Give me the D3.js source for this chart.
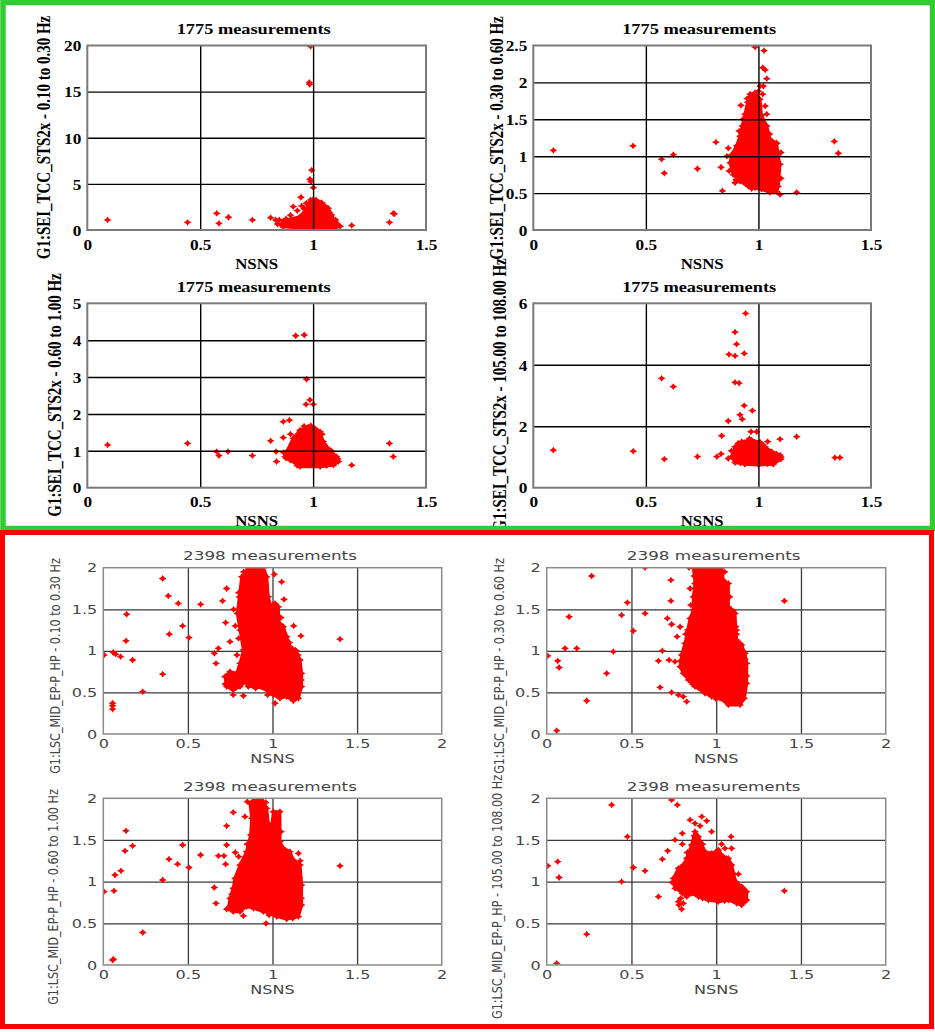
<!DOCTYPE html>
<html><head><meta charset="utf-8">
<script src="https://cdn.jsdelivr.net/npm/d3@7"></script>
<style>body{margin:0;background:#fff}svg{display:block}</style>
</head><body>
<svg id="chart" width="935" height="1032"></svg>
<script>
// ---------- DATA ----------
const topTitle = "1775 measurements";
const bottomTitle = "2398 measurements";
const xLabel = "NSNS";
const topXTicks = [0, 0.5, 1, 1.5];
const bottomXTicks = [0, 0.5, 1, 1.5, 2];
const p1YTicks = [0, 5, 10, 15, 20];
const p2YTicks = [0, 0.5, 1, 1.5, 2, 2.5];
const p3YTicks = [0, 1, 2, 3, 4, 5];
const p4YTicks = [0, 2, 4, 6];
const bottomYTicks = [0, 0.5, 1, 1.5, 2];
const yLabels = [
  "G1:SEI_TCC_STS2x - 0.10 to 0.30 Hz",
  "G1:SEI_TCC_STS2x - 0.30 to 0.60 Hz",
  "G1:SEI_TCC_STS2x - 0.60 to 1.00 Hz",
  "G1:SEI_TCC_STS2x - 105.00 to 108.00 Hz",
  "G1:LSC_MID_EP-P_HP - 0.10 to 0.30 Hz",
  "G1:LSC_MID_EP-P_HP - 0.30 to 0.60 Hz",
  "G1:LSC_MID_EP-P_HP - 0.60 to 1.00 Hz",
  "G1:LSC_MID_EP-P_HP - 105.00 to 108.00 Hz"
];

// individually visible measurements per panel [NSNS, value]
const p1Points = [[0.09,1.09],[0.444,0.83],[0.573,1.8],[0.583,0.72],[0.625,1.38],[0.731,1.09],[0.812,1.34],[0.834,1.09],[0.842,0.65],[0.912,2.54],[0.946,3.55],[0.989,19.9],[0.983,16.0],[0.985,15.8],[0.994,6.5],[0.986,5.5],[0.99,5.25],[1.001,4.6],[1.171,0.5],[1.338,0.83],[1.355,1.8],[1.36,1.75],[0.96,2.3],[0.97,2.9],[1.02,3.0],[1.04,2.8],[1.06,2.2],[1.09,0.6],[1.1,0.75],[0.87,1.0],[0.85,1.1],[0.88,1.2],[0.9,1.6],[0.93,2.1],[0.95,2.6],[1.05,2.6],[1.07,1.9],[1.1,1.1],[1.12,0.4],[0.86,0.5],[1.0,3.3]];
const p2Points = [[0.089,1.08],[0.443,1.14],[0.57,0.96],[0.582,0.77],[0.622,1.02],[0.729,0.83],[0.811,1.19],[0.834,0.85],[0.84,0.53],[0.866,1.11],[0.922,1.69],[0.914,1.34],[0.896,0.64],[0.985,2.48],[1.025,2.43],[1.019,2.2],[1.03,2.17],[1.037,2.05],[1.007,1.95],[1.022,1.95],[1.019,1.84],[1.03,1.68],[1.037,1.57],[1.096,0.48],[1.17,0.51],[1.337,1.2],[1.355,1.04],[1.081,1.17],[0.86,1.0],[0.87,0.8],[0.9,0.68],[0.93,1.5],[0.95,1.78],[1.0,1.88],[1.05,1.3],[1.1,0.7],[1.1,1.05],[0.97,0.56]];
const p3Points = [[0.09,1.16],[0.444,1.2],[0.573,0.98],[0.583,0.87],[0.623,0.98],[0.731,0.87],[0.812,1.27],[0.836,0.98],[0.838,0.71],[0.868,1.79],[0.895,1.83],[0.868,1.36],[0.923,4.12],[0.961,4.14],[0.971,2.94],[0.969,2.26],[0.986,2.38],[1.001,2.26],[1.171,0.61],[1.338,1.2],[1.355,0.84],[0.99,1.68],[0.96,1.6],[0.87,0.95],[0.9,1.45],[0.96,1.67],[1.04,1.45],[1.08,1.0],[1.11,0.78],[1.06,0.6],[0.93,0.6],[0.88,0.8]];
const p4Points = [[0.089,1.22],[0.444,1.19],[0.582,0.93],[0.57,3.56],[0.622,3.29],[0.729,1.01],[0.837,1.69],[0.834,1.1],[0.815,1.01],[0.866,0.95],[0.866,2.17],[0.869,4.34],[0.896,4.29],[0.896,5.06],[0.903,4.67],[0.937,4.37],[0.943,5.67],[0.896,3.43],[0.914,3.4],[0.937,2.67],[0.918,2.37],[0.928,2.23],[0.973,2.51],[0.967,1.82],[0.992,1.82],[1.041,1.5],[1.096,1.58],[1.17,1.66],[1.34,0.98],[1.362,0.98],[0.88,1.2],[0.91,1.45],[0.96,1.6],[1.02,1.4],[1.08,1.1],[1.1,1.0],[1.04,0.78],[0.92,0.8]];
const p5Points = [[0.004,0.95],[0.059,0.98],[0.073,0.96],[0.102,0.93],[0.173,0.89],[0.134,1.12],[0.138,1.44],[0.055,0.37],[0.055,0.34],[0.055,0.3],[0.233,0.51],[0.351,0.72],[0.351,1.87],[0.384,1.66],[0.39,1.2],[0.443,1.57],[0.469,1.3],[0.506,1.16],[0.575,1.56],[0.656,0.97],[0.666,0.85],[0.68,1.03],[0.705,1.6],[0.729,1.75],[0.723,1.34],[0.749,1.11],[0.768,0.47],[0.828,0.46],[0.971,0.47],[1.015,0.37],[1.011,1.92],[1.054,1.83],[1.068,1.62],[1.168,1.18],[1.399,1.14],[1.125,1.3],[1.14,1.0],[0.78,1.3],[0.77,1.5],[0.8,1.7],[0.83,1.95],[0.96,1.8],[1.0,1.55],[1.05,1.4],[1.1,1.1],[1.15,0.95],[1.17,0.65],[1.14,0.45],[0.72,0.6],[0.74,0.72],[0.79,0.95],[0.8,1.15],[0.9,0.55]];
const p6Points = [[0.006,0.94],[0.065,0.88],[0.073,0.8],[0.132,1.41],[0.108,1.03],[0.177,1.03],[0.059,0.04],[0.236,0.4],[0.265,1.9],[0.354,0.73],[0.393,0.99],[0.442,1.43],[0.476,1.58],[0.511,1.24],[0.58,2.0],[0.58,1.45],[0.659,0.88],[0.669,0.56],[0.682,1.0],[0.712,1.39],[0.722,0.89],[0.733,1.85],[0.733,1.6],[0.737,1.32],[0.757,0.87],[0.769,1.17],[0.787,1.29],[0.826,0.39],[0.84,2.0],[0.846,1.75],[1.402,1.6],[1.141,1.09],[0.737,0.5],[0.777,0.47],[0.806,0.45],[1.1,1.48],[1.12,1.25],[0.87,1.9],[1.05,1.95],[1.08,1.65],[1.12,1.2],[1.17,0.9],[1.18,0.7],[1.13,0.38],[1.0,0.42],[0.86,0.6],[0.79,0.88],[0.82,1.2],[0.85,1.55]];
const p7Points = [[0.004,0.88],[0.063,0.89],[0.069,1.08],[0.104,1.13],[0.128,1.37],[0.134,1.61],[0.173,1.43],[0.055,0.06],[0.06,0.07],[0.233,0.39],[0.351,1.02],[0.388,1.27],[0.439,1.21],[0.469,1.44],[0.506,1.17],[0.575,1.32],[0.656,0.93],[0.666,0.74],[0.68,1.31],[0.713,1.31],[0.729,1.44],[0.729,1.67],[0.723,1.21],[0.768,1.83],[0.837,1.78],[0.851,1.96],[0.828,0.59],[0.962,0.5],[1.399,1.19],[1.163,1.25],[1.153,1.34],[0.729,0.67],[0.78,1.35],[0.8,1.3],[0.88,1.9],[0.96,1.95],[1.02,1.8],[1.05,1.6],[1.1,1.3],[1.16,1.05],[1.17,0.8],[1.12,0.56],[0.98,0.6],[0.8,0.68],[0.76,0.85],[0.8,1.1],[0.85,1.45]];
const p8Points = [[0.006,1.19],[0.065,1.24],[0.073,1.05],[0.059,0.02],[0.236,0.37],[0.383,1.92],[0.476,1.54],[0.442,1.0],[0.511,1.17],[0.58,1.13],[0.659,0.82],[0.682,1.27],[0.714,1.37],[0.737,1.98],[0.771,1.92],[0.757,1.5],[0.8,1.45],[0.8,1.58],[0.846,1.74],[0.875,1.7],[0.905,1.67],[0.915,1.78],[0.944,1.73],[0.973,1.6],[1.032,1.45],[1.052,1.4],[1.091,1.4],[1.088,1.54],[1.131,1.09],[1.402,0.89],[0.777,0.76],[0.796,0.67],[0.806,0.74],[0.741,0.99],[0.78,0.72],[0.79,0.8],[0.83,1.35],[0.87,1.55],[0.92,1.45],[1.0,1.36],[1.06,1.28],[1.1,1.1],[1.16,0.92],[1.17,0.76],[1.05,0.77],[0.92,0.8],[0.8,0.86],[0.76,1.0],[0.79,1.15]];

// outline of the dense (overlapping) core of each cloud [NSNS, value]
const p1Cluster = [[0.861,0.65],[0.883,1.09],[0.942,1.45],[0.972,2.36],[0.989,3.26],[1.013,3.26],[1.038,2.97],[1.067,2.36],[1.082,1.63],[1.097,0.9],[1.112,0.54],[1.097,0.22],[0.942,0.22],[0.868,0.36]];
const p2Cluster = [[0.963,1.84],[0.985,1.86],[1.007,1.77],[1.014,1.55],[1.037,1.41],[1.051,1.23],[1.081,1.18],[1.088,1.0],[1.096,0.89],[1.088,0.59],[1.081,0.52],[1.051,0.51],[1.014,0.55],[0.985,0.57],[0.955,0.59],[0.918,0.66],[0.888,0.75],[0.874,0.91],[0.881,1.02],[0.903,1.14],[0.918,1.27],[0.928,1.41],[0.94,1.57],[0.952,1.73]];
const p3Cluster = [[0.883,0.98],[0.912,1.34],[0.942,1.56],[0.979,1.65],[1.008,1.61],[1.031,1.52],[1.045,1.25],[1.075,1.02],[1.104,0.84],[1.112,0.71],[1.09,0.61],[1.031,0.57],[0.942,0.57],[0.898,0.75],[0.876,0.84]];
const p4Cluster = [[0.881,1.01],[0.896,1.33],[0.925,1.5],[0.97,1.55],[1.007,1.48],[1.029,1.33],[1.059,1.17],[1.096,1.06],[1.1,0.93],[1.066,0.76],[1.0,0.74],[0.94,0.76],[0.896,0.82]];
const p5Cluster = [[0.818,1.89],[0.857,2.0],[0.946,2.0],[0.966,1.89],[0.975,1.65],[0.995,1.49],[1.015,1.57],[1.034,1.53],[1.04,1.33],[1.064,1.29],[1.084,1.17],[1.103,1.05],[1.133,1.01],[1.163,0.89],[1.172,0.73],[1.172,0.57],[1.153,0.43],[1.123,0.4],[1.084,0.45],[1.044,0.43],[1.005,0.47],[0.966,0.53],[0.906,0.57],[0.857,0.57],[0.837,0.63],[0.808,0.57],[0.768,0.53],[0.729,0.57],[0.719,0.69],[0.749,0.75],[0.788,0.73],[0.808,0.85],[0.828,1.01],[0.808,1.25],[0.792,1.45],[0.804,1.65]];
const p6Cluster = [[0.865,2.0],[1.032,2.0],[1.042,1.85],[1.072,1.81],[1.072,1.53],[1.091,1.49],[1.111,1.45],[1.115,1.29],[1.121,1.13],[1.15,1.07],[1.17,0.97],[1.18,0.85],[1.18,0.61],[1.166,0.43],[1.141,0.35],[1.072,0.35],[1.023,0.43],[0.973,0.45],[0.934,0.49],[0.875,0.57],[0.836,0.65],[0.806,0.73],[0.787,0.81],[0.796,0.95],[0.816,1.09],[0.832,1.25],[0.846,1.39],[0.865,1.49],[0.865,1.65],[0.875,1.81]];
const p7Cluster = [[0.867,1.94],[0.897,2.0],[0.936,2.0],[0.966,1.88],[0.975,1.7],[0.995,1.64],[1.005,1.84],[1.044,1.84],[1.044,1.48],[1.064,1.4],[1.103,1.36],[1.123,1.26],[1.163,1.2],[1.172,0.96],[1.172,0.72],[1.153,0.58],[1.084,0.55],[1.025,0.58],[0.985,0.62],[0.946,0.64],[0.887,0.68],[0.847,0.7],[0.808,0.64],[0.768,0.64],[0.739,0.68],[0.749,0.8],[0.768,0.92],[0.778,1.04],[0.808,1.2],[0.847,1.36],[0.871,1.56],[0.877,1.76]];
const p8Cluster = [[0.826,1.28],[0.855,1.44],[0.875,1.6],[0.895,1.54],[0.934,1.36],[0.973,1.34],[1.013,1.38],[1.042,1.3],[1.072,1.28],[1.091,1.2],[1.115,1.0],[1.15,0.94],[1.18,0.88],[1.18,0.78],[1.15,0.72],[1.121,0.74],[1.072,0.78],[1.013,0.76],[0.954,0.78],[0.895,0.82],[0.855,0.86],[0.826,0.82],[0.796,0.88],[0.757,0.92],[0.747,1.04],[0.777,1.16],[0.806,1.2]];

// ---------- LAYOUT ----------
const panels = [
  {id:1, kind:"top", x0:87.3, x1:426, yTop:45.5, yBot:230, xDomain:[0,1.5], yDomain:[0,20], xTicks:topXTicks, yTicks:p1YTicks, points:p1Points, cluster:p1Cluster, label:yLabels[0], lx:50, ly:137.5},
  {id:2, kind:"top", x0:533.3, x1:871, yTop:45.5, yBot:230, xDomain:[0,1.5], yDomain:[0,2.5], xTicks:topXTicks, yTicks:p2YTicks, points:p2Points, cluster:p2Cluster, label:yLabels[1], lx:503, ly:138},
  {id:3, kind:"top", x0:87.3, x1:426, yTop:303.3, yBot:487.7, xDomain:[0,1.5], yDomain:[0,5], xTicks:topXTicks, yTicks:p3YTicks, points:p3Points, cluster:p3Cluster, label:yLabels[2], lx:61, ly:395},
  {id:4, kind:"top", x0:533.3, x1:871, yTop:303.3, yBot:487.7, xDomain:[0,1.5], yDomain:[0,6], xTicks:topXTicks, yTicks:p4YTicks, points:p4Points, cluster:p4Cluster, label:yLabels[3], lx:506, ly:395},
  {id:5, kind:"bottom", x0:103.3, x1:441.7, yTop:567.7, yBot:734, xDomain:[0,2], yDomain:[0,2], xTicks:bottomXTicks, yTicks:bottomYTicks, points:p5Points, cluster:p5Cluster, label:yLabels[4], lx:60, ly:666},
  {id:6, kind:"bottom", x0:546.7, x1:885.7, yTop:567.7, yBot:734, xDomain:[0,2], yDomain:[0,2], xTicks:bottomXTicks, yTicks:bottomYTicks, points:p6Points, cluster:p6Cluster, label:yLabels[5], lx:503.5, ly:666},
  {id:7, kind:"bottom", x0:103.3, x1:441.7, yTop:798.3, yBot:965, xDomain:[0,2], yDomain:[0,2], xTicks:bottomXTicks, yTicks:bottomYTicks, points:p7Points, cluster:p7Cluster, label:yLabels[6], lx:58, ly:897},
  {id:8, kind:"bottom", x0:546.7, x1:885.7, yTop:798.3, yBot:965, xDomain:[0,2], yDomain:[0,2], xTicks:bottomXTicks, yTicks:bottomYTicks, points:p8Points, cluster:p8Cluster, label:yLabels[7], lx:502, ly:897}
];

const styles = {
  top: {font:"'Liberation Serif','Times New Roman',serif", weight:"bold", color:"#000",
        tickSize:15, tickScale:1.15, xTickDy:19.5, titleSize:14, titleLen:154, titleDy:-11.5, titleDx:-3,
        xLabSize:14, xLabScale:1.2, xLabDy:38.5, yLabSize:15, yLabScale:1.3,
        frame:"#7a7a7a", frameW:2, grid:"#000", gridW:1.4, gridOnTop:true},
  bottom: {font:"'DejaVu Sans',Verdana,sans-serif", weight:"normal", color:"#454545",
        tickSize:11.5, tickScale:1.4, xTickDy:13.5, titleSize:12, titleLen:null, titleScale:1.4, titleDy:-7.5, titleDx:-2.5,
        xLabSize:11.5, xLabScale:1.4, xLabDy:29, yLabSize:11.2, yLabScale:1.25,
        frame:"#8a8a8a", frameW:1.5, grid:"#3a3a3a", gridW:1.3, gridOnTop:false}
};

const RED = "#ff0000";
const starPath = "M0,-3.4L1.4,-1.4L3.9,0L1.4,1.4L0,3.4L-1.4,1.4L-3.9,0L-1.4,-1.4Z";

const svg = d3.select("#chart");
svg.append("rect").attr("width",935).attr("height",1032).attr("fill","#fff");
const defs = svg.append("defs");

function drawPanel(p) {
  const s = styles[p.kind];
  const title = p.kind === "top" ? topTitle : bottomTitle;
  const x = d3.scaleLinear().domain(p.xDomain).range([p.x0, p.x1]);
  const y = d3.scaleLinear().domain(p.yDomain).range([p.yBot, p.yTop]);
  const g = svg.append("g");
  const w = p.x1 - p.x0, h = p.yBot - p.yTop;

  defs.append("clipPath").attr("id","clip"+p.id)
    .append("rect").attr("x",p.x0).attr("y",p.yTop).attr("width",w).attr("height",h);

  function drawGrid() {
    const gx = g.append("g").attr("transform",`translate(0,${p.yBot})`)
      .call(d3.axisBottom(x).tickValues(p.xTicks.slice(1,-1)).tickSize(-h).tickFormat(""));
    const gy = g.append("g").attr("transform",`translate(${p.x0},0)`)
      .call(d3.axisLeft(y).tickValues(p.yTicks.slice(1,-1)).tickSize(-w).tickFormat(""));
    [gx,gy].forEach(a => {
      a.select(".domain").remove();
      a.selectAll("line").attr("stroke",s.grid).attr("stroke-width",s.gridW);
    });
  }

  if (!s.gridOnTop) drawGrid();

  const data = g.append("g").attr("clip-path",`url(#clip${p.id})`);
  const line = d3.line().x(d => x(d[0])).y(d => y(d[1])).curve(d3.curveLinearClosed);
  data.append("path").attr("d", line(p.cluster))
    .attr("fill",RED).attr("stroke",RED).attr("stroke-width",3).attr("stroke-linejoin","round");
  data.selectAll("path.pt").data(p.cluster.concat(p.points)).join("path")
    .attr("class","pt").attr("d",starPath).attr("fill",RED)
    .attr("transform", d => `translate(${x(d[0])},${y(d[1])})`);

  if (s.gridOnTop) drawGrid();

  g.append("rect").attr("x",p.x0).attr("y",p.yTop).attr("width",w).attr("height",h)
    .attr("fill","none").attr("stroke",s.frame).attr("stroke-width",s.frameW);

  const fmt = d => String(d);
  const ax = g.append("g").attr("transform",`translate(0,${p.yBot})`)
    .call(d3.axisBottom(x).tickValues(p.xTicks).tickSize(0).tickFormat(fmt));
  ax.select(".domain").remove();
  ax.selectAll("text").attr("x",0).attr("y",0).attr("dy",0)
    .attr("transform",`translate(0,${s.xTickDy}) scale(${s.tickScale},1)`);
  const ay = g.append("g").attr("transform",`translate(${p.x0},0)`)
    .call(d3.axisLeft(y).tickValues(p.yTicks).tickSize(0).tickFormat(fmt));
  ay.select(".domain").remove();
  ay.selectAll("text").attr("x",0).attr("dy","0.35em").attr("text-anchor","end")
    .attr("transform",`translate(-6,0) scale(${s.tickScale},1)`);
  [ax,ay].forEach(a => a.selectAll("text")
    .attr("font-family",s.font).attr("font-weight",s.weight).attr("font-size",s.tickSize).attr("fill",s.color));

  const t = g.append("text").attr("text-anchor","middle")
    .attr("font-family",s.font).attr("font-weight",s.weight).attr("font-size",s.titleSize).attr("fill",s.color)
    .text(title);
  if (s.titleLen) {
    t.attr("x",(p.x0+p.x1)/2 + s.titleDx).attr("y",p.yTop + s.titleDy)
     .attr("textLength",s.titleLen).attr("lengthAdjust","spacingAndGlyphs");
  } else {
    t.attr("transform",`translate(${(p.x0+p.x1)/2 + s.titleDx},${p.yTop + s.titleDy}) scale(${s.titleScale},1)`);
  }

  g.append("text").attr("text-anchor","middle")
    .attr("transform",`translate(${(p.x0+p.x1)/2},${p.yBot + s.xLabDy}) scale(${s.xLabScale},1)`)
    .attr("font-family",s.font).attr("font-weight",s.weight).attr("font-size",s.xLabSize).attr("fill",s.color)
    .text(xLabel);

  g.append("text").attr("text-anchor","middle")
    .attr("transform",`translate(${p.lx},${p.ly}) scale(${s.yLabScale},1) rotate(-90)`)
    .attr("font-family",s.font).attr("font-weight",s.weight).attr("font-size",s.yLabSize).attr("fill",s.color)
    .text(p.label);
}

panels.forEach(drawPanel);

svg.append("rect").attr("x",3).attr("y",2.5).attr("width",929.5).attr("height",526)
  .attr("fill","none").attr("stroke","#33cc33").attr("stroke-width",5.5);
svg.append("rect").attr("x",2.5).attr("y",532.5).attr("width",929).attr("height",494)
  .attr("fill","none").attr("stroke",RED).attr("stroke-width",5);
</script>
</body></html>
